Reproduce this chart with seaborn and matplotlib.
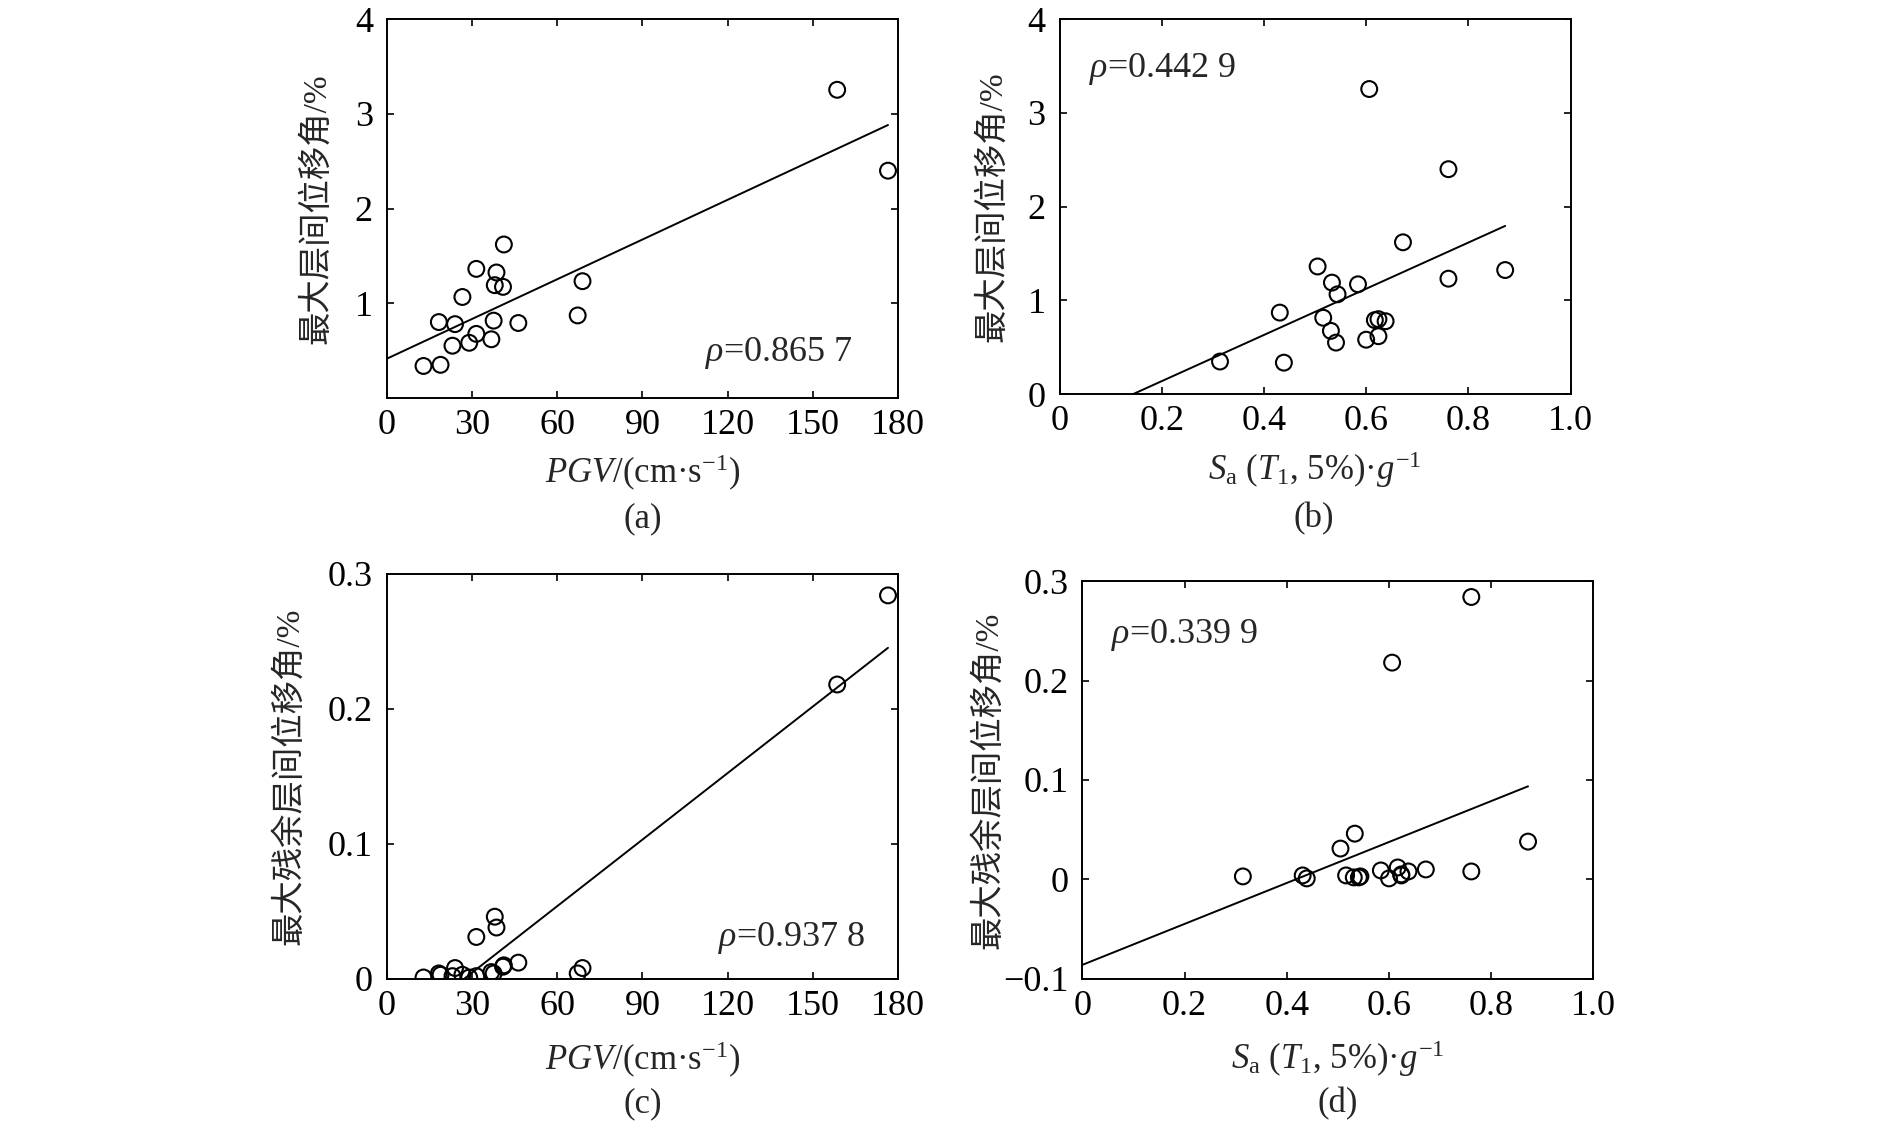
import numpy as np
import matplotlib
matplotlib.use("Agg")
import matplotlib.pyplot as plt
import seaborn as sns

# 20 条地震动记录 (按最大层间位移角排序)
pgv = [158.6, 176.5, 41.2, 31.5, 38.6, 68.9, 38.0, 40.9, 26.6, 67.2,
       37.6, 18.3, 46.3, 24.0, 31.5, 36.8, 29.0, 23.1, 18.9, 12.9]
sa = [0.606, 0.761, 0.672, 0.505, 0.872, 0.761, 0.533, 0.584, 0.544, 0.431,
      0.516, 0.624, 0.617, 0.638, 0.531, 0.624, 0.600, 0.541, 0.314, 0.439]
drift = [3.255, 2.40, 1.62, 1.362, 1.324, 1.232, 1.19, 1.172, 1.065, 0.87,
         0.815, 0.80, 0.79, 0.778, 0.675, 0.618, 0.581, 0.55, 0.348, 0.336]
resid = [0.218, 0.284, 0.010, 0.031, 0.038, 0.008, 0.046, 0.009, 0.003, 0.004,
         0.004, 0.004, 0.012, 0.008, 0.002, 0.005, 0.001, 0.002, 0.003, 0.001]

rho = ["0.865 7", "0.442 9", "0.937 8", "0.339 9"]
tags = ["(a)", "(b)", "(c)", "(d)"]

pgv_ticks = [0, 30, 60, 90, 120, 150, 180]
pgv_ticklabels = ["0", "30", "60", "90", "120", "150", "180"]
sa_ticks = [0, 0.2, 0.4, 0.6, 0.8, 1.0]
sa_ticklabels = ["0", "0.2", "0.4", "0.6", "0.8", "1.0"]
drift_ticks_a = [1, 2, 3, 4]
drift_ticks_b = [0, 1, 2, 3, 4]
resid_ticks_c = [0, 0.1, 0.2, 0.3]
resid_ticklabels_c = ["0", "0.1", "0.2", "0.3"]
resid_ticks_d = [-0.1, 0, 0.1, 0.2, 0.3]
resid_ticklabels_d = ["\u22120.1", "0", "0.1", "0.2", "0.3"]

ylab_drift = "最大层间位移角/%"
ylab_resid = "最大残余层间位移角/%"
xlab_pgv = r"$\mathit{PGV}$/(cm·s$^{-1}$)"
xlab_sa = r"$S_{\mathrm{a}}$ ($T_1$, 5%)·$g^{-1}$"

sns.set_style("ticks")
plt.rcParams["font.family"] = ["Liberation Serif", "Noto Sans CJK SC"]
plt.rcParams["mathtext.fontset"] = "custom"
plt.rcParams["mathtext.rm"] = "Liberation Serif"
plt.rcParams["mathtext.it"] = "Liberation Serif:italic"
plt.rcParams["axes.unicode_minus"] = True

fig = plt.figure(figsize=(18.9, 11.22), dpi=100)

ax_a = fig.add_axes([0.2047, 0.6455, 0.2704, 0.3373])
ax_b = fig.add_axes([0.5606, 0.6487, 0.2704, 0.3342])
ax_c = fig.add_axes([0.2047, 0.1276, 0.2704, 0.3610])
ax_d = fig.add_axes([0.5727, 0.1276, 0.2704, 0.3545])


def panel(ax, x, y, xlim, ylim, xt, xtl, yt, ytl, xlab, ylab, r, rpos, rha, ylab_x):
    # 回归线画到 0 ~ max(x)
    ax.set_xlim(0, max(x))
    sns.regplot(x=np.array(x), y=np.array(y), ax=ax, ci=None, truncate=False,
                scatter_kws=dict(color="none", edgecolors="black", s=130,
                                 linewidths=1.5, alpha=1, zorder=3),
                line_kws=dict(color="black", lw=1.4, zorder=2))
    ax.set_xlim(*xlim)
    ax.set_ylim(*ylim)
    ax.set_xticks(xt)
    ax.set_xticklabels(xtl)
    ax.set_yticks(yt)
    ax.set_yticklabels(ytl)
    ax.tick_params(direction="in", top=True, right=True, length=5, width=1.2,
                   labelsize=26, colors="black")
    ax.tick_params(axis="x", pad=8)
    ax.tick_params(axis="y", pad=10)
    for s in ax.spines.values():
        s.set_linewidth(1.4)
        s.set_color("black")
    ax.set_xlabel(xlab, fontsize=25, va="center")
    ax.xaxis.set_label_coords(0.5, -0.2)
    ax.set_ylabel(ylab, fontsize=24, va="center")
    ax.yaxis.set_label_coords(ylab_x, 0.5)
    ax.text(rpos[0], rpos[1], r"$\rho$=" + r, transform=ax.transAxes,
            fontsize=26, ha=rha, va="center")


panel(ax_a, pgv, drift, (0, 180), (0, 4), pgv_ticks, pgv_ticklabels,
      drift_ticks_a, [str(v) for v in drift_ticks_a], xlab_pgv, ylab_drift,
      rho[0], (0.912, 0.118), "right", -0.139)
panel(ax_b, sa, drift, (0, 1), (0, 4), sa_ticks, sa_ticklabels,
      drift_ticks_b, [str(v) for v in drift_ticks_b], xlab_sa, ylab_drift,
      rho[1], (0.057, 0.868), "left", -0.132)
panel(ax_c, pgv, resid, (0, 180), (0, 0.3), pgv_ticks, pgv_ticklabels,
      resid_ticks_c, resid_ticklabels_c, xlab_pgv, ylab_resid,
      rho[2], (0.937, 0.101), "right", -0.191)
panel(ax_d, sa, resid, (0, 1), (-0.1, 0.3), sa_ticks, sa_ticklabels,
      resid_ticks_d, resid_ticklabels_d, xlab_sa, ylab_resid,
      rho[3], (0.056, 0.864), "left", -0.185)

fig.text(0.340, 0.538, tags[0], fontsize=25, ha="center", va="center")
fig.text(0.695, 0.538, tags[1], fontsize=25, ha="center", va="center")
fig.text(0.340, 0.016, tags[2], fontsize=25, ha="center", va="center")
fig.text(0.708, 0.016, tags[3], fontsize=25, ha="center", va="center")

fig.savefig("out.png", dpi=100, facecolor="white")
